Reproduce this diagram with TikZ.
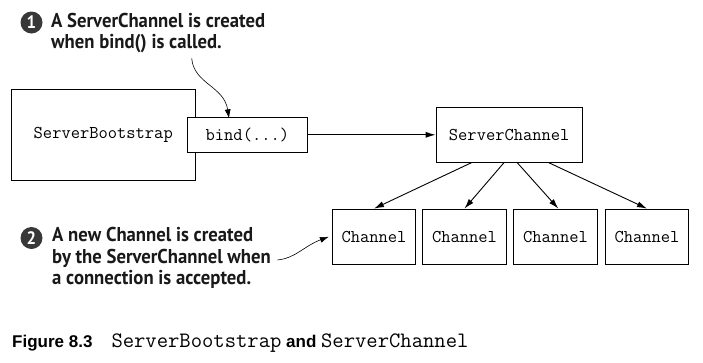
\documentclass[tikz,border=0pt]{standalone}
\usepackage{fontspec}
\usetikzlibrary{arrows.meta}
\newfontfamily\callfont[FakeStretch=0.935]{PT Sans}
\newfontfamily\capsans{Liberation Sans}
\begin{document}
\begin{tikzpicture}[x=1pt,y=-1pt,
  box/.style={draw=black,line width=0.9pt,fill=white,inner sep=0pt,
    font=\ttfamily\fontsize{18}{20}\selectfont},
  link/.style={line width=0.9pt,-{Latex[length=10pt,width=6pt]}},
  note/.style={line width=0.6pt,-{Latex[length=9pt,width=6pt]}},
  notetext/.style={anchor=base west,inner sep=0pt,text=black!90,
    font=\callfont\bfseries\fontsize{20}{21.7}\selectfont},
  badge/.style={circle,fill=black!78,text=white,inner sep=0pt,minimum size=22pt,
    font=\callfont\bfseries\fontsize{18}{18}\selectfont}]
\useasboundingbox (0,0) rectangle (703,362);

% bootstrap with its bind() box laid over the right edge
\node[box,minimum width=184.5pt,minimum height=91pt] (boot) at (103.25,134.5) {ServerBootstrap};
\node[box,minimum width=119.8pt,minimum height=35pt] (bind) at (247.4,134.8) {bind(...)};

% server channel and its child channels
\node[box,minimum width=146.3pt,minimum height=55pt] (srv) at (509.2,134.8) {ServerChannel};
\foreach \i/\cx in {1/374,2/464.5,3/555.5,4/647}
  \node[box,minimum width=83.3pt,minimum height=55.3pt] (ch\i) at (\cx,236.7) {Channel};

\draw[link] (bind.east) -- (srv.west);
\draw[link] ([xshift=35.7pt]srv.south west) -- (ch1.north);
\draw[link] ([xshift=68.3pt]srv.south west) -- (ch2.north);
\draw[link] ([xshift=81.7pt]srv.south west) -- ([xshift=2.8pt]ch3.north);
\draw[link] ([xshift=113.3pt]srv.south west) -- (ch4.north);

% callout 1
\node[badge] (b1) at (31.5,22.5) {1};
\node[notetext] (t1a) at (51,27) {A ServerChannel is created};
\node[notetext] (t1b) at (51,48.5) {when bind() is called.};
\coordinate (n1) at (191.7,58.5);
\draw[note] (n1) .. controls (194,84) and (224,86) .. ([xshift=42pt,yshift=-1.5pt]bind.north west);

% callout 2
\node[badge] (b2) at (31.5,238) {2};
\node[notetext] (t2a) at (52,241.7) {A new Channel is created};
\node[notetext] (t2b) at (52,263.2) {by the ServerChannel when};
\node[notetext] (t2c) at (52,284.7) {a connection is accepted.};
\coordinate (n2) at (277.5,260);
\draw[note] (n2) .. controls (296,258) and (304,246) .. ([xshift=-3pt]ch1.west);

% caption
\node[anchor=base west,inner sep=0pt] (cap) at (12,347.5)
  {{\capsans\bfseries\fontsize{17}{18}\selectfont Figure 8.3}\hspace{19pt}%
   {\ttfamily\fontsize{22}{22}\selectfont ServerBootstrap}%
   {\capsans\bfseries\fontsize{17}{18}\selectfont\ and }%
   {\ttfamily\fontsize{22}{22}\selectfont ServerChannel}};
\end{tikzpicture}
\end{document}
